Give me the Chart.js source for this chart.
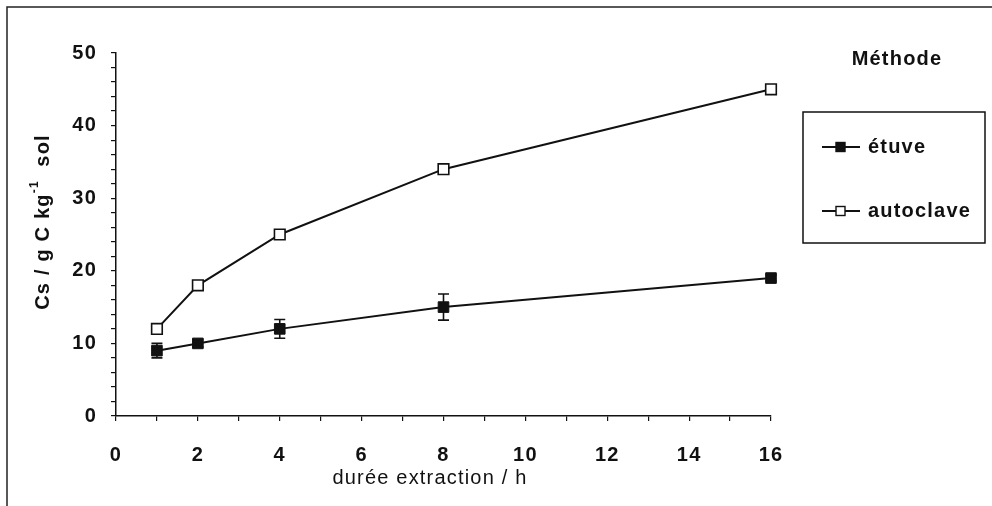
<!DOCTYPE html>
<html lang="fr">
<head>
<meta charset="UTF-8">
<title>Cs - durée extraction</title>
<script src="https://cdn.jsdelivr.net/npm/chart.js@4.4.0/dist/chart.umd.min.js"></script>
<style>
  html, body { margin:0; padding:0; background:#ffffff; }
  #wrap { width:992px; height:506px; position:relative; }
</style>
</head>
<body>
<div id="wrap"><canvas id="cs_chart"></canvas></div>
<script>
// durée d'extraction (h)
const durees = [1, 2, 4, 8, 16];
// Cs (g C / kg sol) par méthode
const etuve = [9, 10, 12, 15, 19];
const etuveErr = [1.0, 0.5, 1.3, 1.8, 0.4];
const autoclave = [12, 18, 25, 34, 45];
const nomsSeries = ['étuve', 'autoclave'];

const INK = '#111111';
const FONT = '"Liberation Sans", Arial, sans-serif';

function toPoints(ys) {
  return durees.map((x, i) => ({x: x, y: ys[i]}));
}

// cadre, barres d'erreur, titres des axes, légende
const decor = {
  id: 'decor',
  beforeUpdate(chart) { chart.ctx.letterSpacing = '1.2px'; },
  beforeDraw(chart) {
    const ctx = chart.ctx;
    ctx.letterSpacing = '1.2px';
    ctx.save();
    ctx.strokeStyle = '#222';
    ctx.lineWidth = 1.5;
    ctx.beginPath();
    ctx.moveTo(7, 506);
    ctx.lineTo(7, 7);
    ctx.lineTo(992, 7);
    ctx.stroke();
    ctx.restore();
  },
  beforeDatasetsDraw(chart) {
    const ctx = chart.ctx;
    const xs = chart.scales.x, ys = chart.scales.y;
    ctx.save();
    ctx.strokeStyle = INK;
    ctx.lineWidth = 1.6;
    durees.forEach((d, i) => {
      const px = xs.getPixelForValue(d);
      const top = ys.getPixelForValue(etuve[i] + etuveErr[i]);
      const bot = ys.getPixelForValue(etuve[i] - etuveErr[i]);
      ctx.beginPath();
      ctx.moveTo(px, top); ctx.lineTo(px, bot);
      ctx.moveTo(px - 5.5, top); ctx.lineTo(px + 5.5, top);
      ctx.moveTo(px - 5.5, bot); ctx.lineTo(px + 5.5, bot);
      ctx.stroke();
    });
    ctx.restore();
  },
  afterDraw(chart) {
    const ctx = chart.ctx;
    ctx.save();
    ctx.fillStyle = INK;

    // titre de l'axe X
    ctx.font = '20px ' + FONT;
    ctx.textAlign = 'center';
    ctx.textBaseline = 'middle';
    ctx.fillText('durée extraction / h', 430, 478);

    // titre de l'axe Y
    ctx.translate(43, 222);
    ctx.rotate(-Math.PI / 2);
    const mainFont = 'bold 20px ' + FONT;
    const supFont = 'bold 12px ' + FONT;
    const p1 = 'Cs / g C kg', sup = '-1', p2 = '  sol';
    ctx.font = mainFont;
    const w1 = ctx.measureText(p1).width, w3 = ctx.measureText(p2).width;
    ctx.font = supFont;
    const w2 = ctx.measureText(sup).width;
    let x0 = -(w1 + w2 + w3) / 2;
    ctx.textAlign = 'left';
    ctx.font = mainFont;
    ctx.fillText(p1, x0, 0);
    ctx.font = supFont;
    ctx.fillText(sup, x0 + w1, -8);
    ctx.font = mainFont;
    ctx.fillText(p2, x0 + w1 + w2, 0);
    ctx.restore();

    // légende
    ctx.save();
    ctx.fillStyle = INK;
    ctx.strokeStyle = INK;
    ctx.font = 'bold 20px ' + FONT;
    ctx.textAlign = 'center';
    ctx.textBaseline = 'middle';
    ctx.fillText('Méthode', 897, 59);
    ctx.lineWidth = 1.5;
    ctx.strokeRect(803, 112, 182, 131);
    const rows = [147, 211];
    chart.data.datasets.forEach((ds, i) => {
      const y = rows[i];
      ctx.lineWidth = 2;
      ctx.strokeStyle = ds.borderColor;
      ctx.beginPath();
      ctx.moveTo(822, y); ctx.lineTo(860, y);
      ctx.stroke();
      ctx.fillStyle = ds.pointBackgroundColor;
      ctx.fillRect(836, y - 4.5, 9, 9);
      ctx.lineWidth = 1.4;
      ctx.strokeStyle = ds.pointBorderColor;
      ctx.strokeRect(836, y - 4.5, 9, 9);
      ctx.fillStyle = INK;
      ctx.textAlign = 'left';
      ctx.fillText(ds.label, 868, y);
    });
    ctx.restore();
  }
};

new Chart(document.getElementById('cs_chart'), {
  type: 'line',
  data: {
    datasets: [{
      label: nomsSeries[0],
      data: toPoints(etuve),
      borderColor: INK,
      backgroundColor: INK,
      borderWidth: 2,
      pointStyle: 'rect',
      pointRadius: 7.5,
      pointBackgroundColor: INK,
      pointBorderColor: INK,
      pointBorderWidth: 1,
      tension: 0,
      fill: false,
      clip: false
    }, {
      label: nomsSeries[1],
      data: toPoints(autoclave),
      borderColor: INK,
      backgroundColor: '#ffffff',
      borderWidth: 2,
      pointStyle: 'rect',
      pointRadius: 7.5,
      pointBackgroundColor: '#ffffff',
      pointBorderColor: INK,
      pointBorderWidth: 1.6,
      tension: 0,
      fill: false,
      clip: false
    }]
  },
  options: {
    responsive: true,
    maintainAspectRatio: false,
    animation: false,
    layout: { padding: { top: 53, right: 221, left: 0, bottom: 0 } },
    plugins: {
      legend: { display: false },
      tooltip: { enabled: false }
    },
    scales: {
      x: {
        type: 'linear',
        min: 0, max: 16,
        afterFit(scale) { scale.height = 90; },
        border: { display: true, color: INK, width: 1.5 },
        grid: { drawOnChartArea: false, drawTicks: true, tickLength: 5, color: INK, lineWidth: 1.2 },
        ticks: {
          stepSize: 1, autoSkip: false, maxRotation: 0, padding: 22,
          color: INK,
          font: { family: FONT, size: 20, weight: 'bold' },
          callback: v => (v % 2 === 0 ? v : '')
        }
      },
      y: {
        min: 0, max: 50,
        afterFit(scale) { scale.width = 116; },
        border: { display: true, color: INK, width: 1.5 },
        grid: { drawOnChartArea: false, drawTicks: true, tickLength: 5, color: INK, lineWidth: 1.2 },
        ticks: {
          stepSize: 2, autoSkip: false, padding: 14,
          color: INK,
          font: { family: FONT, size: 20, weight: 'bold' },
          callback: v => (v % 10 === 0 ? v : '')
        }
      }
    }
  },
  plugins: [decor]
});
</script>
</body>
</html>
